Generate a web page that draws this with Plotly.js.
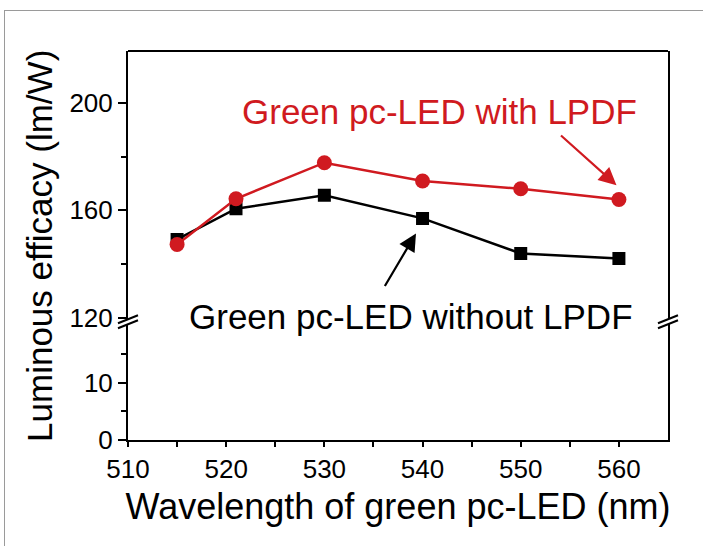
<!DOCTYPE html>
<html>
<head>
<meta charset="utf-8">
<script src="https://cdn.plot.ly/plotly-3.0.1.min.js"></script>
<style>
  html, body { margin: 0; padding: 0; background: #ffffff; }
  #chart { position: absolute; left: 0; top: 0; width: 703px; height: 546px; }
  #frame { position: absolute; left: 4px; top: 10px; right: 0; bottom: 0;
           border-left: 1.5px solid #9a9a9a; border-top: 1.5px solid #9a9a9a; pointer-events: none; }
</style>
</head>
<body>
<div id="chart"></div>
<div id="frame"></div>
<script>
// ---- data ----
const wavelengths = [515, 521, 530, 540, 550, 560];
const withLPDF    = [147.3, 164.3, 177.7, 170.9, 168.0, 164.0];
const withoutLPDF = [149.2, 160.6, 165.6, 157.0, 144.0, 142.1];
const xTicks      = [510, 520, 530, 540, 550, 560];
const xMinor      = [515, 525, 535, 545, 555];
const yLowTicks   = [0, 10];
const yLowMinor   = [5, 15];
const yHighTicks  = [120, 160, 200];
const yHighMinor  = [140, 180];

const FONT = 'Liberation Sans, Arial, Helvetica, sans-serif';
const RED = '#d01a20';
const BREAK = 0.304;

const traces = [
  // empty trace so the lower (broken) axis panel exists
  { x: [], y: [], xaxis: 'x', yaxis: 'y', mode: 'markers', showlegend: false, hoverinfo: 'skip' },
  { x: wavelengths, y: withoutLPDF, xaxis: 'x', yaxis: 'y2', mode: 'lines+markers',
    name: 'Green pc-LED without LPDF',
    line: { color: '#000000', width: 2.5 },
    marker: { symbol: 'square', size: 13, color: '#000000' } },
  { x: wavelengths, y: withLPDF, xaxis: 'x', yaxis: 'y2', mode: 'lines+markers',
    name: 'Green pc-LED with LPDF',
    line: { color: RED, width: 2.5 },
    marker: { symbol: 'circle', size: 15, color: RED } }
];

const axisCommon = {
  showline: true, linecolor: '#000', linewidth: 2,
  ticks: 'outside', tickcolor: '#000', tickwidth: 2,
  showgrid: false, zeroline: false,
  tickfont: { family: FONT, size: 26, color: '#000' }
};

function breakMarks(xa) {
  const common = { type: 'line', xref: 'paper', yref: 'paper',
    xsizemode: 'pixel', ysizemode: 'pixel', xanchor: xa, yanchor: BREAK, layer: 'above' };
  return [
    Object.assign({}, common, { x0: -10, x1: 10, y0: -4, y1: 4, line: { color: '#fff', width: 5 } }),
    Object.assign({}, common, { x0: -10, x1: 10, y0: -1.5, y1: 6.5, line: { color: '#000', width: 2 } }),
    Object.assign({}, common, { x0: -10, x1: 10, y0: -6.5, y1: 1.5, line: { color: '#000', width: 2 } })
  ];
}

const layout = {
  width: 703, height: 546,
  margin: { l: 128, r: 35, t: 51, b: 106 },
  paper_bgcolor: '#ffffff', plot_bgcolor: '#ffffff',
  showlegend: false,
  font: { family: FONT, color: '#000' },
  xaxis: Object.assign({}, axisCommon, {
    range: [510, 565], tickmode: 'array', tickvals: xTicks, ticklen: 5,
    minor: { tickmode: 'array', tickvals: xMinor, ticks: 'outside', ticklen: 5, tickwidth: 2, tickcolor: '#000' },
    anchor: 'y',
    title: { text: 'Wavelength of green pc-LED (nm)', font: { family: FONT, size: 36, color: '#000' }, standoff: 11 }
  }),
  yaxis: Object.assign({}, axisCommon, {
    domain: [0, BREAK], range: [0, 20.7], tickmode: 'array', tickvals: yLowTicks, ticklen: 8,
    minor: { tickmode: 'array', tickvals: yLowMinor, ticks: 'outside', ticklen: 5, tickwidth: 2, tickcolor: '#000' },
    mirror: true, anchor: 'x'
  }),
  yaxis2: Object.assign({}, axisCommon, {
    domain: [BREAK, 1], range: [118.6, 219.2], tickmode: 'array', tickvals: yHighTicks, ticklen: 8,
    minor: { tickmode: 'array', tickvals: yHighMinor, ticks: 'outside', ticklen: 5, tickwidth: 2, tickcolor: '#000' },
    mirror: true, anchor: 'x'
  }),
  shapes: [
    { type: 'line', xref: 'paper', yref: 'paper', x0: 0, x1: 1, y0: 1, y1: 1, line: { color: '#000', width: 2 } }
  ].concat(breakMarks(0), breakMarks(1)),
  annotations: [
    { text: 'Luminous efficacy (lm/W)', xref: 'paper', yref: 'paper', x: -0.164, y: 0.5,
      textangle: -90, showarrow: false, xanchor: 'center', yanchor: 'middle',
      font: { family: FONT, size: 35, color: '#000' } },
    { text: 'Green pc-LED with LPDF', xref: 'paper', yref: 'paper', x: 0.2077, y: 0.844,
      xanchor: 'left', yanchor: 'middle', showarrow: false,
      font: { family: FONT, size: 35, color: RED } },
    { text: 'Green pc-LED without LPDF', xref: 'paper', yref: 'paper', x: 0.1097, y: 0.3185,
      xanchor: 'left', yanchor: 'middle', showarrow: false,
      font: { family: FONT, size: 35, color: '#000' } },
    { text: '', xref: 'paper', yref: 'paper', x: 0.9046, y: 0.655, ax: -57, ay: -51,
      showarrow: true, arrowhead: 2, arrowsize: 1.6, arrowwidth: 2.2, arrowcolor: RED, standoff: 0 },
    { text: '', xref: 'paper', yref: 'paper', x: 0.5333, y: 0.531, ax: -32, ay: 54,
      showarrow: true, arrowhead: 2, arrowsize: 1.6, arrowwidth: 2.2, arrowcolor: '#000', standoff: 0 }
  ]
};

Plotly.newPlot('chart', traces, layout, { displayModeBar: false, staticPlot: true });
</script>
</body>
</html>
